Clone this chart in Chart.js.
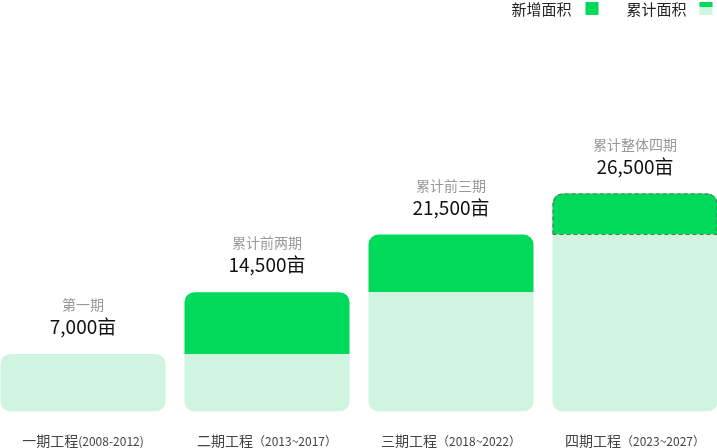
<!DOCTYPE html>
<html>
<head>
<meta charset="utf-8">
<script src="https://cdn.jsdelivr.net/npm/chart.js@4.4.1/dist/chart.umd.min.js"></script>
<style>
  html, body { margin: 0; padding: 0; background: #fff; overflow: hidden; }
  #wrap { position: absolute; left: -9.5px; top: 0; width: 736px; height: 448px; }
</style>
</head>
<body>
<div id="wrap"><canvas id="chart"></canvas></div>
<script>
// data
const phases = ['一期工程', '二期工程', '三期工程', '四期工程'];
const years = ['(2008-2012)', '（2013~2017）', '（2018~2022）', '（2023~2027）'];
const totalLabels = ['第一期', '累计前两期', '累计前三期', '累计整体四期'];
const totals = [7000, 14500, 21500, 26500];
const cumulative = [7000, 7000, 14500, 21500];
const added = [null, 7500, 7000, 5000];

const GREEN = '#00d95a';
const LIGHT = '#cff4df';
const FONT = '"Noto Sans CJK SC", "Noto Sans", sans-serif';
const R = 10;

// labels above bars, x labels, legend, dashed outline on last bar
const decorations = {
  id: 'decorations',
  afterDatasetsDraw(chart) {
    const ctx = chart.ctx;
    const base = chart.getDatasetMeta(0);
    const top = chart.getDatasetMeta(1);

    // dashed outline on the last "new" bar
    const el = top.data[3];
    if (el && added[3] != null) {
      const l = el.x - el.width / 2, r = el.x + el.width / 2;
      ctx.save();
      ctx.strokeStyle = '#666';
      ctx.lineWidth = 1;
      ctx.setLineDash([4, 3]);
      ctx.beginPath();
      ctx.moveTo(l + 0.5, el.base);
      ctx.lineTo(l + 0.5, el.y + R);
      ctx.arcTo(l + 0.5, el.y + 0.5, l + R, el.y + 0.5, R);
      ctx.lineTo(r - R, el.y + 0.5);
      ctx.arcTo(r - 0.5, el.y + 0.5, r - 0.5, el.y + R, R);
      ctx.lineTo(r - 0.5, el.base);
      ctx.closePath();
      ctx.stroke();
      ctx.restore();
    }

    ctx.save();
    ctx.textAlign = 'center';
    ctx.textBaseline = 'middle';
    totals.forEach((v, i) => {
      const bar = added[i] != null ? top.data[i] : base.data[i];
      const x = bar.x;
      ctx.fillStyle = '#999';
      ctx.font = '14px ' + FONT;
      ctx.fillText(totalLabels[i], x, bar.y - 49);
      ctx.fillStyle = '#111';
      ctx.font = '19px ' + FONT;
      ctx.fillText(v.toLocaleString('en-US') + '亩', x, bar.y - 27);
    });

    // x labels with smaller year text
    const y = chart.chartArea.bottom + 29;
    phases.forEach((p, i) => {
      const x = base.data[i].x;
      ctx.font = '14px ' + FONT;
      const w1 = ctx.measureText(p).width;
      ctx.font = '12px ' + FONT;
      const w2 = ctx.measureText(years[i]).width;
      let sx = x - (w1 + w2) / 2;
      ctx.textAlign = 'left';
      ctx.fillStyle = '#444';
      ctx.font = '14px ' + FONT;
      ctx.fillText(p, sx, y);
      ctx.font = '12px ' + FONT;
      ctx.fillText(years[i], sx + w1, y + 0.5);
    });

    // legend, top right
    const ox = 9.5;
    ctx.textAlign = 'left';
    ctx.font = '15px ' + FONT;
    ctx.fillStyle = '#222';
    ctx.fillText('新增面积', ox + 511, 9);
    ctx.fillStyle = GREEN;
    ctx.fillRect(ox + 585, 2, 13, 13);
    ctx.fillStyle = '#222';
    ctx.fillText('累计面积', ox + 626, 9);
    ctx.fillStyle = LIGHT;
    ctx.fillRect(ox + 699, 2, 13, 13);
    ctx.fillStyle = GREEN;
    ctx.fillRect(ox + 699, 2, 13, 5);
    ctx.restore();
  }
};

new Chart(document.getElementById('chart'), {
  type: 'bar',
  data: {
    labels: phases,
    datasets: [{
      label: '累计面积',
      data: cumulative,
      backgroundColor: LIGHT,
      borderWidth: 0,
      borderSkipped: false,
      borderRadius: c => ({
        bottomLeft: R, bottomRight: R,
        topLeft: added[c.dataIndex] == null ? R : 0,
        topRight: added[c.dataIndex] == null ? R : 0
      })
    }, {
      label: '新增面积',
      data: added,
      backgroundColor: GREEN,
      borderWidth: 0,
      borderSkipped: false,
      borderRadius: { topLeft: R, topRight: R, bottomLeft: 0, bottomRight: 0 }
    }]
  },
  options: {
    responsive: true,
    maintainAspectRatio: false,
    animation: false,
    layout: { padding: { top: 0, bottom: 36.5, left: 0, right: 0 } },
    datasets: { bar: { barPercentage: 165 / 184, categoryPercentage: 1 } },
    scales: {
      x: { stacked: true, display: false },
      y: { stacked: true, display: false, min: 0, max: 50000 }
    },
    plugins: { legend: { display: false }, tooltip: { enabled: false } }
  },
  plugins: [decorations]
});
</script>
</body>
</html>
